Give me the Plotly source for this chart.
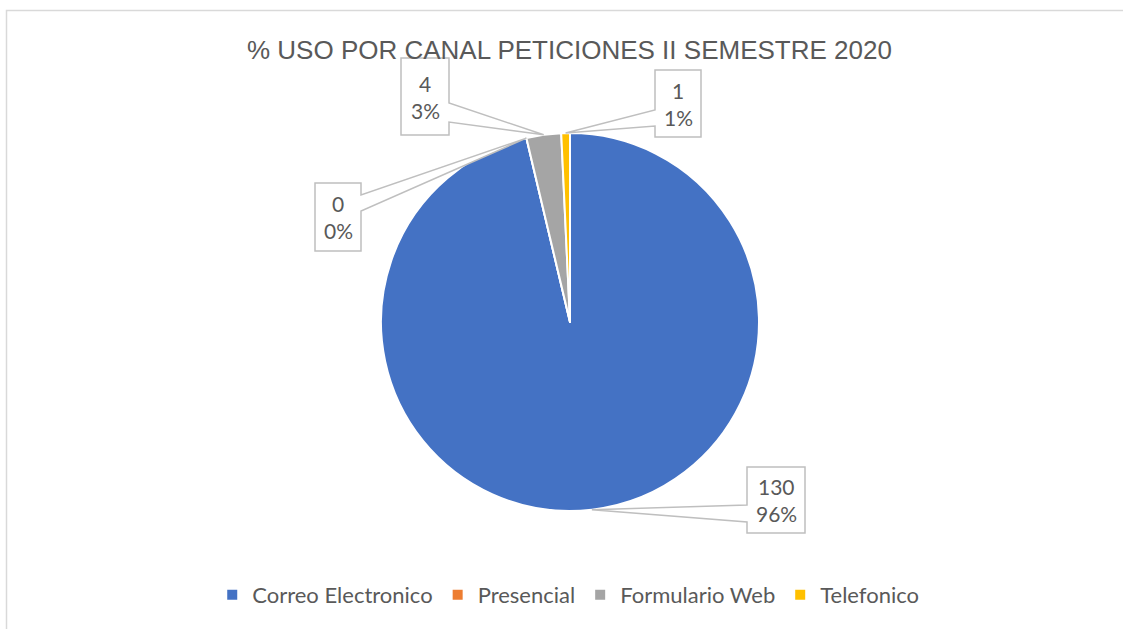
import math
import plotly.graph_objects as go

# ---- data ----
categories = ["Correo Electronico", "Presencial", "Formulario Web", "Telefonico"]
values = [130, 0, 4, 1]
colors = ["#4472C4", "#ED7D31", "#A5A5A5", "#FFC000"]
title_text = "% USO POR CANAL PETICIONES II SEMESTRE 2020"

W, H = 1123, 629
# pie geometry (pixels)
CX, CY, R = 570, 322, 189

# label boxes (pixel layout): x0, x1, y0, y1, side where the pointer attaches, attach y pair
boxes = [
    dict(x0=747, x1=805, y0=467, y1=533, side="left", ay=(505, 522)),
    dict(x0=315, x1=361, y0=183, y1=251, side="right", ay=(195, 211)),
    dict(x0=401, x1=449, y0=58, y1=135, side="right", ay=(103, 122)),
    dict(x0=655, x1=701, y0=70, y1=137, side="left", ay=(110, 126)),
]

total = sum(values)

fig = go.Figure()
fig.add_trace(go.Pie(
    labels=categories, values=values, sort=False, direction="clockwise", rotation=0,
    marker=dict(colors=colors, line=dict(color="white", width=2)),
    textinfo="none", hoverinfo="label+value+percent",
    domain=dict(x=[(CX - R) / W, (CX + R) / W], y=[1 - (CY + R) / H, 1 - (CY - R) / H]),
    showlegend=True,
))

shapes = []
annotations = []
# chart border
shapes.append(dict(type="path", xref="x", yref="y",
                   path=f"M 6.5,{H+5} L 6.5,10.5 L {W+5},10.5",
                   line=dict(color="#D9D9D9", width=1.5), layer="above"))

cum = 0.0
for v, b in zip(values, boxes):
    mid = (cum + v / 2) / total
    cum += v
    ang = 2 * math.pi * mid
    tx = CX + R * math.sin(ang)
    ty = CY - R * math.cos(ang)
    x0, x1, y0, y1 = b["x0"], b["x1"], b["y0"], b["y1"]
    a1, a2 = b["ay"]
    if b["side"] == "left":
        path = (f"M {x0},{y0} L {x1},{y0} L {x1},{y1} L {x0},{y1} L {x0},{a2} "
                f"L {tx:.1f},{ty:.1f} L {x0},{a1} Z")
    else:
        path = (f"M {x0},{y0} L {x1},{y0} L {x1},{a1} L {tx:.1f},{ty:.1f} L {x1},{a2} "
                f"L {x1},{y1} L {x0},{y1} Z")
    shapes.append(dict(type="path", xref="x", yref="y", path=path,
                       fillcolor="white", line=dict(color="#BFBFBF", width=1.5), layer="above"))
    pct = round(v / total * 100)
    xc = (x0 + x1) / 2
    yc = (y0 + y1) / 2
    for txt, dy in ((f"{v}", -13.5), (f"{pct}%", 13.5)):
        annotations.append(dict(x=xc, y=yc + dy, xref="x", yref="y", text=txt,
                                showarrow=False, xanchor="center", yanchor="middle",
                                font=dict(family="Lato, Noto Sans, sans-serif", size=21, color="#595959")))

annotations.append(dict(x=569, y=50, xref="x", yref="y", text=title_text, showarrow=False,
                        xanchor="center", yanchor="middle",
                        font=dict(family="Liberation Sans Narrow, Liberation Sans, sans-serif",
                                  size=26, color="#595959")))

fig.update_layout(
    width=W, height=H,
    margin=dict(l=0, r=0, t=0, b=0),
    paper_bgcolor="white", plot_bgcolor="white",
    xaxis=dict(range=[0, W], visible=False, fixedrange=True),
    yaxis=dict(range=[H, 0], visible=False, fixedrange=True),
    shapes=shapes, annotations=annotations,
    legend=dict(orientation="h", x=0.506, xanchor="center", y=1 - 595 / H, yanchor="middle",
                font=dict(family="Lato, Noto Sans, sans-serif", size=22, color="#595959"),
                itemclick=False),
)

fig.write_html("out.html", config={"displayModeBar": False},
               post_script="document.body.style.margin='0px';")
